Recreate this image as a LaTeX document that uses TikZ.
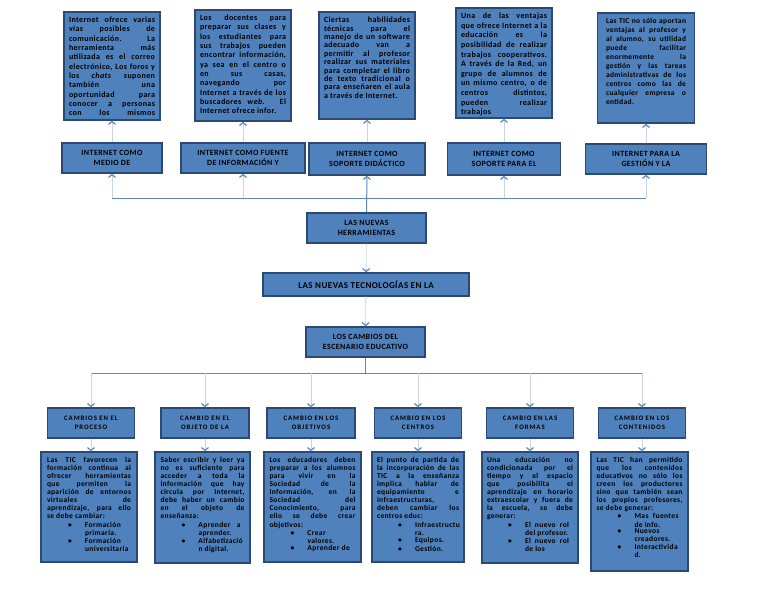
\documentclass[tikz,border=0pt]{standalone}
\usepackage{fontspec}
\setmainfont{Carlito}
\newfontfamily\cajafont[LetterSpace=5]{Carlito}
\newfontfamily\titfont[LetterSpace=5]{Carlito}
\newfontfamily\titbfont[LetterSpace=14]{Carlito}
\usetikzlibrary{arrows.meta,positioning}

\definecolor{cajaazul}{HTML}{4F81BD}
\definecolor{bordeazul}{HTML}{2A4A74}
\definecolor{lineaazul}{HTML}{5B87C0}
\definecolor{lineaclara}{HTML}{C9D5E6}

% text block inside a box: width, height, size, leading, text
\newcommand{\textocaja}[5]{\parbox[c][#2][t]{#1}{\cajafont\fontsize{#3}{#4}\selectfont\bfseries\tolerance=10000\hyphenpenalty=10000\exhyphenpenalty=10000 #5}}
\newcommand{\vineta}[2]{\par\noindent\hspace*{21pt}\makebox[17pt][l]{\textbullet}\parbox[t]{\dimexpr\linewidth-42pt}{#2}\par\vspace{0.8pt}}

\begin{document}
\begin{tikzpicture}[x=1pt, y=-1pt,
  caja/.style={draw=bordeazul, fill=cajaazul, line width=1.4pt, inner sep=0pt},
  encab/.style={caja, align=center, font=\titfont\fontsize{8}{10}\selectfont\bfseries},
  encabb/.style={caja, align=center, font=\titbfont\fontsize{6.8}{9}\selectfont\bfseries},
  conector/.style={draw=lineaclara, line width=0.8pt, -{Straight Barb[length=3pt,width=7pt,color=lineaazul,line width=1.2pt]}},
  bus/.style={draw=lineaazul, line width=1pt}]
\useasboundingbox (0,0) rectangle (768,594);

% upper text boxes
\node[caja, minimum width=96pt, minimum height=108pt] (t1) at (112,66) {\textocaja{86pt}{98pt}{8pt}{9.3pt}{Internet ofrece varias\linebreak vías posibles de\linebreak comunicación. La\linebreak herramienta más\linebreak utilizada es el correo\linebreak electrónico, Los foros y\linebreak los \emph{chats} suponen\linebreak también una\linebreak oportunidad para\linebreak conocer a personas\linebreak con los mismos\linebreak}};
\node[caja, minimum width=96pt, minimum height=111pt] (t2) at (243,65.5) {\textocaja{86pt}{101pt}{8pt}{9.3pt}{Los docentes para\linebreak preparar sus clases y\linebreak los estudiantes para\linebreak sus trabajos pueden\linebreak encontrar información,\linebreak ya sea en el centro o\linebreak en sus casas,\linebreak navegando por\linebreak Internet a través de los\linebreak buscadores \emph{web}. El\linebreak Internet ofrece infor.}};
\node[caja, minimum width=96pt, minimum height=107pt] (t3) at (367,65.5) {\textocaja{86pt}{97pt}{8pt}{8.4pt}{Ciertas habilidades\linebreak técnicas para el\linebreak manejo de un software\linebreak adecuado van a\linebreak permitir al profesor\linebreak realizar sus materiales\linebreak para completar el libro\linebreak de texto tradicional o\linebreak para enseñaren el aula\linebreak a través de Internet.}};
\node[caja, minimum width=96pt, minimum height=110pt] (t4) at (504,63) {\textocaja{86pt}{100pt}{8pt}{9.6pt}{Una de las ventajas\linebreak que ofrece Internet a la\linebreak educación es la\linebreak posibilidad de realizar\linebreak trabajos cooperativos.\linebreak A través de la Red, un\linebreak grupo de alumnos de\linebreak un mismo centro, o de\linebreak centros distintos,\linebreak pueden realizar\linebreak trabajos}};
\node[caja, minimum width=97pt, minimum height=110pt] (t5) at (646,68) {\textocaja{80pt}{100pt}{7.5pt}{9pt}{Las TIC no sólo aportan\linebreak ventajas al profesor y\linebreak al alumno, su utilidad\linebreak puede facilitar\linebreak enormemente la\linebreak gestión y las tareas\linebreak administrativas de los\linebreak centros como las de\linebreak cualquier empresa o\linebreak entidad.}};

% upper headers
\node[encab, minimum width=100pt, minimum height=30pt] (h1) at (112,158) {INTERNET COMO\\MEDIO DE};
\node[encab, minimum width=124pt, minimum height=30pt] (h2) at (243,158) {INTERNET COMO FUENTE\\DE INFORMACIÓN Y};
\node[encab, minimum width=116pt, minimum height=32pt] (h3) at (367,159) {INTERNET COMO\\SOPORTE DIDÁCTICO};
\node[encab, minimum width=113pt, minimum height=32pt] (h4) at (504,159) {INTERNET COMO\\SOPORTE PARA EL};
\node[encab, minimum width=121pt, minimum height=30pt] (h5) at (646,159) {INTERNET PARA LA\\GESTIÓN Y LA};

% centre column
\node[encab, minimum width=119pt, minimum height=30pt] (herr) at (366.5,228) {LAS NUEVAS\\HERRAMIENTAS};
\node[encab, font=\titfont\fontsize{9}{10}\selectfont\bfseries, minimum width=206pt, minimum height=23pt] (tec) at (366,284.5) {LAS NUEVAS TECNOLOGÍAS EN LA};
\node[encab, minimum width=119pt, minimum height=30pt] (camb) at (365.5,342) {LOS CAMBIOS DEL\\ESCENARIO EDUCATIVO};

% lower headers
\node[encabb, minimum width=87pt, minimum height=30pt] (c1) at (91,423) {CAMBIOS EN EL\\PROCESO};
\node[encabb, minimum width=88pt, minimum height=30pt] (c2) at (205,423) {CAMBIO EN EL\\OBJETO DE LA};
\node[encabb, minimum width=88pt, minimum height=30pt] (c3) at (311,423) {CAMBIO EN LOS\\OBJETIVOS};
\node[encabb, minimum width=87pt, minimum height=30pt] (c4) at (418,423) {CAMBIO EN LOS\\CENTROS};
\node[encabb, minimum width=87pt, minimum height=30pt] (c5) at (530,423) {CAMBIO EN LAS\\FORMAS};
\node[encabb, minimum width=87pt, minimum height=30pt] (c6) at (642,423) {CAMBIO EN LOS\\CONTENIDOS};

% lower text boxes
\node[caja, minimum width=96pt, minimum height=110pt] (d1) at (89,507) {\textocaja{84pt}{100pt}{7.5pt}{8.1pt}{Las TIC favorecen la\linebreak formación continua al\linebreak ofrecer herramientas\linebreak que permiten la\linebreak aparición de entornos\linebreak virtuales de\linebreak aprendizaje, para ello\linebreak se debe cambiar:
  \vineta{}{Formación\linebreak primaria.}\vineta{}{Formación\linebreak universitaria}}};
\node[caja, minimum width=95pt, minimum height=111pt] (d2) at (202.5,507.5) {\textocaja{84pt}{101pt}{7.5pt}{8.1pt}{Saber escribir y leer ya\linebreak no es suficiente para\linebreak acceder a toda la\linebreak información que hay\linebreak circula por Internet,\linebreak debe haber un cambio\linebreak en el objeto de\linebreak enseñanza:
  \vineta{}{Aprender a\linebreak aprender.}\vineta{}{Alfabetizació\linebreak n digital.}}};
\node[caja, minimum width=97pt, minimum height=110pt] (d3) at (312.5,507) {\textocaja{86pt}{100pt}{7.5pt}{8.1pt}{Los educadores deben\linebreak preparar a los alumnos\linebreak para vivir en la\linebreak Sociedad de la\linebreak Información, en la\linebreak Sociedad del\linebreak Conocimiento, para\linebreak ello se debe crear\linebreak objetivos:
  \vineta{}{Crear\linebreak valores.}\vineta{}{Aprender de}}};
\node[caja, minimum width=92pt, minimum height=110pt] (d4) at (418,507) {\textocaja{82pt}{100pt}{7.5pt}{8.1pt}{El punto de partida de\linebreak la incorporación de las\linebreak TIC a la enseñanza\linebreak implica hablar de\linebreak equipamiento e\linebreak infraestructuras,\linebreak deben cambiar los\linebreak centros educ:
  \vineta{}{Infraestructu\linebreak ra.}\vineta{}{Equipos.}\vineta{}{Gestión.}}};
\node[caja, minimum width=96pt, minimum height=111pt] (d5) at (530,507.5) {\textocaja{86pt}{101pt}{7.5pt}{8.1pt}{Una educación no\linebreak condicionada por el\linebreak tiempo y el espacio\linebreak que posibilita el\linebreak aprendizaje en horario\linebreak extraescolar y fuera de\linebreak la escuela, se debe\linebreak generar:
  \vineta{}{El nuevo rol\linebreak del profesor.}\vineta{}{El nuevo rol\linebreak de los}}};
\node[caja, minimum width=97pt, minimum height=119pt] (d6) at (639.5,511.5) {\textocaja{86pt}{109pt}{7.5pt}{8.1pt}{Las TIC han permitido\linebreak que los contenidos\linebreak educativos no sólo los\linebreak creen los productores\linebreak sino que también sean\linebreak los propios profesores,\linebreak se debe generar:
  \vineta{}{Mas fuentes\linebreak de info.}\vineta{}{Nuevos\linebreak creadores.}\vineta{}{Interactivida\linebreak d.}}};

% upper connectors
\coordinate (b1) at (112,198);
\coordinate (b5) at (646,198);
\draw[bus] (b1) -- (b5);
\foreach \n in {1,2,4,5}
  \draw[conector] (h\n.south |- b1) -- (h\n.south);
\draw[bus, -{Straight Barb[length=3pt,width=7pt,color=lineaazul,line width=1.2pt]}] (herr.north) -- (h3.south);
\foreach \n in {1,...,5}
  \draw[conector] (h\n.north) -- (h\n.north |- t\n.south);
\draw[conector] (herr) -- (tec);
\draw[conector] (tec) -- (camb);

% lower connectors
\coordinate (e1) at (91,373);
\coordinate (e6) at (642,373);
\draw[bus] (camb.south) -- (camb.south |- e1);
\draw[bus] (e1) -- (e6);
\foreach \n in {1,...,6}{
  \draw[conector] (c\n.north |- e1) -- (c\n.north);
  \draw[conector] (c\n.south) -- (c\n.south |- d\n.north);
}
\end{tikzpicture}
\end{document}
